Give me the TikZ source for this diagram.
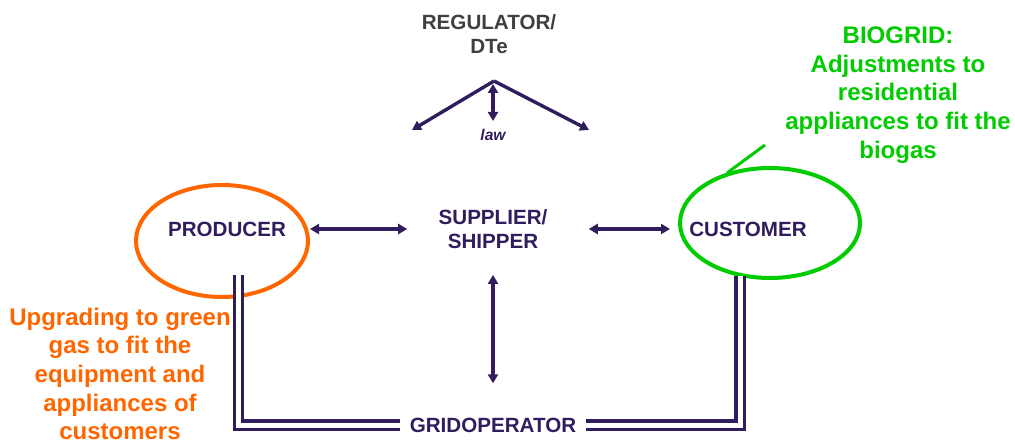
\documentclass[tikz,border=0pt]{standalone}
\usepackage{fontspec}
\setmainfont{Liberation Sans}
\usetikzlibrary{arrows.meta,shapes.geometric}
\definecolor{navy}{RGB}{49,29,94}
\definecolor{org}{RGB}{255,102,0}
\definecolor{grn}{RGB}{0,204,0}
\definecolor{gry}{RGB}{64,64,64}
\begin{document}
\begin{tikzpicture}[x=0.5pt,y=-0.5pt,
  lbl/.style={font=\fontsize{10.3pt}{12pt}\selectfont\bfseries, text=navy, align=center, inner sep=0pt},
  note/.style={font=\fontsize{12pt}{14.3pt}\selectfont\bfseries, align=center, inner sep=0pt},
  arr/.style={draw=navy, line width=1.7pt, {Triangle[length=4.5pt,width=5pt]}-{Triangle[length=4.5pt,width=5pt]}},
  arrone/.style={draw=navy, line width=1.7pt, -{Triangle[length=4.5pt,width=5pt]}},
  pipe/.style={draw=navy, line width=1.6pt, double=white, double distance=2.5pt},
  ring/.style={draw, ellipse, line width=2pt, inner sep=0pt}]
\useasboundingbox (0,0) rectangle (1015,442);
% nodes
\node[lbl, text=gry, align=center] (reg) at (489,34) {REGULATOR/\\DTe};
\node[font=\fontsize{7.8pt}{9pt}\selectfont\bfseries\itshape, text=navy, inner sep=0pt] (law) at (493,135) {law};
\node[lbl] (supplier) at (493,229) {SUPPLIER/\\SHIPPER};
\node[lbl] (producer) at (227,229) {PRODUCER};
\node[lbl] (customer) at (748,229) {CUSTOMER};
\node[lbl, inner xsep=4.5pt] (grid) at (493,425) {GRIDOPERATOR};
\node[ring, draw=org, minimum width=86pt, minimum height=56pt] (prodring) at (222,241) {};
\node[ring, draw=grn, minimum width=90pt, minimum height=55pt] (custring) at (770,223) {};
\node[note, text=grn] (bio) at (898,95) {BIOGRID:\\Adjustments to\\residential\\appliances to fit the\\biogas};
\node[note, text=org] (upg) at (120,374) {Upgrading to green\\gas to fit the\\equipment and\\appliances of\\customers};
% coordinates
\coordinate (apex) at (494,81);
\coordinate (regl) at (412,130);
\coordinate (regr) at (589,130);
\coordinate (lawtop) at (493,84);
\coordinate (lawbot) at (493,121);
\coordinate (pl) at (238.5,275);
\coordinate (pr) at (740,276);
\coordinate (gl) at (765,145);
\coordinate (gr) at (727,173);
% connectors
\draw[arrone] (apex) -- (regl);
\draw[arrone] (apex) -- (regr);
\draw[arr] (lawtop) -- (lawbot);
\draw[arr, shorten >=15.5pt] (prodring.east |- supplier) -- (supplier.west);
\draw[arr, shorten <=20.5pt, shorten >=4pt] (supplier.east) -- (custring.west |- supplier);
\draw[arr, shorten <=13pt, shorten >=17pt] (supplier.south) -- (grid.north);
\draw[pipe] (pl) |- (grid.west);
\draw[pipe] (pr) |- (grid.east);
\draw[grn, line width=1.5pt] (gl) -- (gr);
\end{tikzpicture}
\end{document}
